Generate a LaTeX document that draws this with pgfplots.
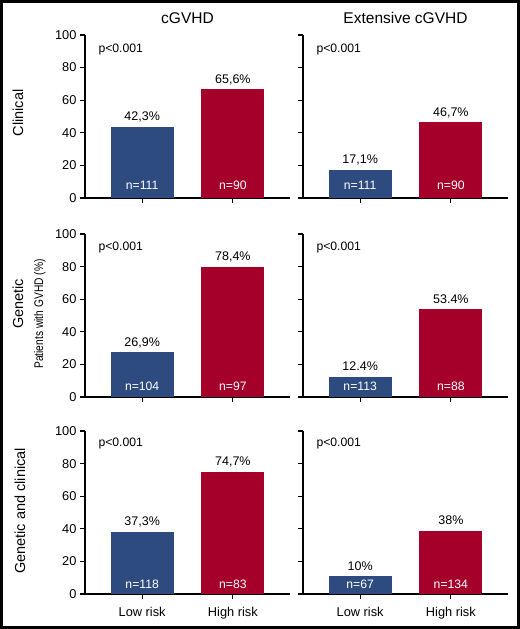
\documentclass[border=0pt]{standalone}
\usepackage{fontspec}
\setmainfont{Liberation Sans}
\usepackage{pgfplots}
\pgfplotsset{compat=1.18}
\definecolor{lowblue}{HTML}{2D4B7E}
\definecolor{highred}{HTML}{A5002A}
\newcommand{\fs}[1]{\fontsize{#1bp}{#1bp}\selectfont}
\pgfplotsset{
  panel/.style={
    scale only axis, width=205bp, height=163bp,
    anchor=south west,
    xmin=-0.63, xmax=1.63, ymin=0, ymax=100,
    axis x line=bottom, axis y line=left,
    axis line style={-, line width=1.2bp},
    ytick={0,20,...,100}, xtick={0,1},
    tick align=outside, major tick length=5bp,
    tick style={line width=1.2bp, black},
    xticklabels={},
    ybar, bar width=63bp, bar shift=0pt,
    nodes near coords, point meta=explicit symbolic,
    nodes near coords style={font=\fs{12.5}, anchor=base, yshift=6bp, inner sep=0pt, black},
    /pgf/number format/assume math mode=true,
    ticklabel style={font=\fs{12.8}},
    xticklabel style={yshift=-5bp},
    clip=false,
  },
  nolab/.style={yticklabels={}},
}
\tikzset{
  nlab/.style={white, anchor=base, font=\fs{12.2}},
  plab/.style={anchor=west, font=\fs{12.2}},
}
\begin{document}
\begin{tikzpicture}
\path[use as bounding box] (0,0) rectangle (520bp,629bp);
\draw[line width=3bp] (1.5bp,1.5bp) rectangle (518.5bp,627.5bp);

% column titles
\node[font=\fs{15.5}] at (187.5bp,611bp) {cGVHD};
\node[font=\fs{15.5}] at (405.5bp,611bp) {Extensive cGVHD};

% row labels
\node[rotate=90, font=\fs{14.5}] at (18bp,516bp) {Clinical};
\node[rotate=90, font=\fs{14.5}] at (18bp,325bp) {Genetic};
\node[rotate=90, font=\fs{12.5}] at (40bp,315bp) {\scalebox{0.82}[1]{Patients with GVHD (\%)}};
\node[rotate=90, font=\fs{14.5}] at (20bp,118bp) {Genetic and clinical};

% row 1: clinical
\begin{axis}[panel, at={(85bp,431bp)}]
  \addplot[fill=lowblue, draw=none] coordinates {(0,43.6) [42,3\%]};
  \addplot[fill=highred, draw=none] coordinates {(1,66.7) [65,6\%]};
  \node[nlab] at (axis cs:0,5.2) {n=111};
  \node[nlab] at (axis cs:1,5.2) {n=90};
  \node[plab] at ([xshift=10bp]rel axis cs:0,0.912) {p<0.001};
\end{axis}
\begin{axis}[panel, nolab, at={(303bp,431bp)}]
  \addplot[fill=lowblue, draw=none] coordinates {(0,17.2) [17,1\%]};
  \addplot[fill=highred, draw=none] coordinates {(1,46.6) [46,7\%]};
  \node[nlab] at (axis cs:0,5.2) {n=111};
  \node[nlab] at (axis cs:1,5.2) {n=90};
  \node[plab] at ([xshift=10bp]rel axis cs:0,0.912) {p<0.001};
\end{axis}

% row 2: genetic
\begin{axis}[panel, at={(85bp,232bp)}]
  \addplot[fill=lowblue, draw=none] coordinates {(0,27.6) [26,9\%]};
  \addplot[fill=highred, draw=none] coordinates {(1,79.8) [78,4\%]};
  \node[nlab] at (axis cs:0,3.8) {n=104};
  \node[nlab] at (axis cs:1,3.8) {n=97};
  \node[plab] at ([xshift=10bp]rel axis cs:0,0.92) {p<0.001};
\end{axis}
\begin{axis}[panel, nolab, at={(303bp,232bp)}]
  \addplot[fill=lowblue, draw=none] coordinates {(0,12.3) [12.4\%]};
  \addplot[fill=highred, draw=none] coordinates {(1,53.8) [53.4\%]};
  \node[nlab] at (axis cs:0,3.8) {n=113};
  \node[nlab] at (axis cs:1,3.8) {n=88};
  \node[plab] at ([xshift=10bp]rel axis cs:0,0.92) {p<0.001};
\end{axis}

% row 3: genetic and clinical
\begin{axis}[panel, at={(85bp,35bp)}, xticklabels={Low risk, High risk}]
  \addplot[fill=lowblue, draw=none] coordinates {(0,38.2) [37,3\%]};
  \addplot[fill=highred, draw=none] coordinates {(1,75.0) [74,7\%]};
  \node[nlab] at (axis cs:0,3.6) {n=118};
  \node[nlab] at (axis cs:1,3.6) {n=83};
  \node[plab] at ([xshift=10bp]rel axis cs:0,0.925) {p<0.001};
\end{axis}
\begin{axis}[panel, nolab, at={(303bp,35bp)}, xticklabels={Low risk, High risk}]
  \addplot[fill=lowblue, draw=none] coordinates {(0,10.8) [10\%]};
  \addplot[fill=highred, draw=none] coordinates {(1,38.8) [38\%]};
  \node[nlab] at (axis cs:0,3.2) {n=67};
  \node[nlab] at (axis cs:1,3.2) {n=134};
  \node[plab] at ([xshift=10bp]rel axis cs:0,0.925) {p<0.001};
\end{axis}
\end{tikzpicture}
\end{document}
